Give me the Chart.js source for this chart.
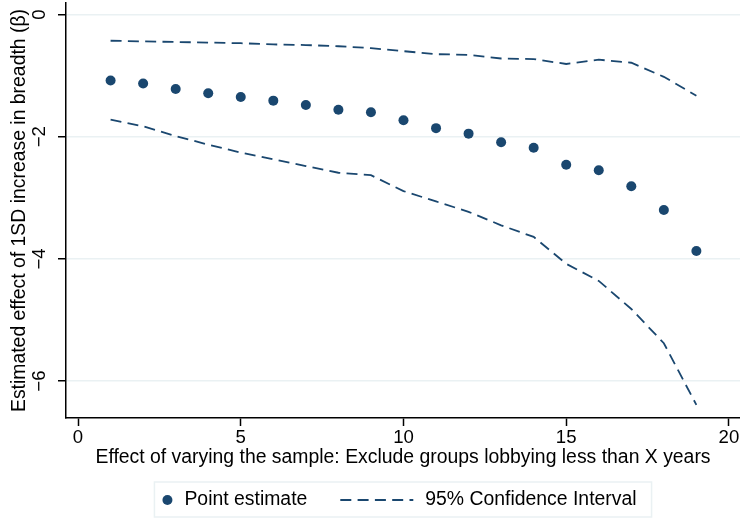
<!DOCTYPE html>
<html>
<head>
<meta charset="utf-8">
<script src="https://cdn.jsdelivr.net/npm/chart.js@4/dist/chart.umd.min.js"></script>
<style>
  html, body { margin: 0; padding: 0; background: #ffffff; }
  #wrap { width: 740px; height: 518px; position: relative; }
</style>
</head>
<body>
<div id="wrap"><canvas id="c" width="740" height="518"></canvas></div>
<script>
// ---- data ----
const xYears = [1, 2, 3, 4, 5, 6, 7, 8, 9, 10, 11, 12, 13, 14, 15, 16, 17, 18, 19];
const pointEstimate = [-1.08, -1.13, -1.22, -1.29, -1.35, -1.41, -1.48, -1.56, -1.60, -1.73,
                       -1.86, -1.95, -2.09, -2.18, -2.46, -2.55, -2.81, -3.20, -3.87];
const ciUpper = [-0.43, -0.44, -0.45, -0.46, -0.47, -0.49, -0.50, -0.52, -0.55, -0.60,
                 -0.65, -0.66, -0.72, -0.73, -0.81, -0.74, -0.79, -1.02, -1.33];
const ciLower = [-1.72, -1.83, -1.99, -2.13, -2.26, -2.37, -2.48, -2.59, -2.63, -2.89,
                 -3.06, -3.23, -3.45, -3.64, -4.08, -4.36, -4.82, -5.38, -6.39];
const xTickValues = [0, 5, 10, 15, 20];
const yTickValues = [-6, -4, -2, 0];
const legendLabels = ['Point estimate', '95% Confidence Interval'];
const xTitle = 'Effect of varying the sample: Exclude groups lobbying less than X years';
const yTitle = 'Estimated effect of 1SD increase in breadth (\u03B2)';

// ---- styling ----
const NAVY = '#1a476f';
const GRID = '#eaf1f3';
const FONT = "'Liberation Sans', Arial, Helvetica, sans-serif";
const fmt = v => (v < 0 ? '\u2212' + Math.abs(v) : String(v));

const toXY = arr => xYears.map((x, i) => ({ x: x, y: arr[i] }));

const legendPlugin = {
  id: 'stataLegend',
  afterDraw(chart) {
    const ctx = chart.ctx;
    const ca = chart.chartArea;
    ctx.save();
    ctx.font = '19.4px ' + FONT;
    const w1 = ctx.measureText(legendLabels[0]).width;
    const w2 = ctx.measureText(legendLabels[1]).width;
    const total = 13 + 17 + w1 + 33 + 73 + 12 + w2 + 15;
    const cx = (ca.left + ca.right) / 2;
    const left = cx - total / 2;
    const top = 482, h = 35;
    const cy = top + h / 2 + 0.5;
    ctx.strokeStyle = GRID;
    ctx.lineWidth = 1.5;
    ctx.strokeRect(left, top, total, h);
    // marker
    ctx.fillStyle = NAVY;
    ctx.beginPath();
    ctx.arc(left + 13, cy, 5, 0, Math.PI * 2);
    ctx.fill();
    ctx.fillStyle = '#000';
    ctx.textAlign = 'left';
    ctx.textBaseline = 'middle';
    const t1x = left + 30;
    ctx.fillText(legendLabels[0], t1x, cy);
    const lx0 = t1x + w1 + 33;
    ctx.strokeStyle = NAVY;
    ctx.lineWidth = 1.8;
    ctx.setLineDash([11, 6.3]);
    ctx.beginPath();
    ctx.moveTo(lx0, cy);
    ctx.lineTo(lx0 + 73, cy);
    ctx.stroke();
    ctx.setLineDash([]);
    ctx.fillStyle = '#000';
    ctx.fillText(legendLabels[1], lx0 + 73 + 12, cy);
    ctx.restore();
  }
};

new Chart(document.getElementById('c'), {
  type: 'scatter',
  data: {
    datasets: [
      {
        label: legendLabels[0],
        data: toXY(pointEstimate),
        pointRadius: 5,
        pointHoverRadius: 5,
        pointBackgroundColor: NAVY,
        pointBorderWidth: 0,
        borderColor: NAVY,
        showLine: false
      },
      {
        label: legendLabels[1],
        data: toXY(ciUpper),
        showLine: true,
        borderColor: NAVY,
        borderWidth: 1.8,
        borderDash: [11, 6.3],
        pointRadius: 0,
        fill: false,
        tension: 0
      },
      {
        label: legendLabels[1] + ' (lower)',
        data: toXY(ciLower),
        showLine: true,
        borderColor: NAVY,
        borderWidth: 1.8,
        borderDash: [11, 6.3],
        pointRadius: 0,
        fill: false,
        tension: 0
      }
    ]
  },
  options: {
    responsive: false,
    animation: false,
    devicePixelRatio: 1,
    layout: { autoPadding: false, padding: { top: 3, right: 0, bottom: 36, left: 0 } },
    plugins: {
      legend: { display: false },
      tooltip: { enabled: false }
    },
    scales: {
      x: {
        type: 'linear',
        min: -0.37,
        max: 20.34,
        afterBuildTicks: s => { s.ticks = xTickValues.map(v => ({ value: v })); },
        afterFit: s => { s.height = 64; s.paddingLeft = 0; s.paddingRight = 0; },
        grid: { drawOnChartArea: false, drawTicks: true, tickLength: 8, tickColor: '#000', tickWidth: 1.5 },
        border: { display: true, color: '#000', width: 1.5 },
        ticks: {
          color: '#000',
          padding: 1,
          autoSkip: false,
          maxRotation: 0,
          font: { family: FONT, size: 18.6 },
          callback: v => fmt(v)
        },
        title: {
          display: true,
          text: xTitle,
          color: '#000',
          font: { family: FONT, size: 19.4 },
          padding: { top: 0, bottom: 12.4 }
        }
      },
      y: {
        type: 'linear',
        min: -6.604,
        max: 0.188,
        afterBuildTicks: s => { s.ticks = yTickValues.map(v => ({ value: v })); },
        afterFit: s => { s.width = 66; s.paddingTop = 0; s.paddingBottom = 0; },
        grid: { color: GRID, lineWidth: 1.5, drawTicks: true, tickLength: 8, tickColor: '#000', tickWidth: 1.5 },
        border: { display: true, color: '#000', width: 1.5 },
        ticks: {
          color: '#000',
          padding: 8,
          minRotation: 90,
          maxRotation: 90,
          crossAlign: 'center',
          autoSkip: false,
          font: { family: FONT, size: 18.6 },
          callback: v => fmt(v)
        },
        title: {
          display: true,
          text: yTitle,
          color: '#000',
          font: { family: FONT, size: 19.4 },
          padding: { top: 8, bottom: 0 }
        }
      }
    }
  },
  plugins: [legendPlugin]
});
</script>
</body>
</html>
